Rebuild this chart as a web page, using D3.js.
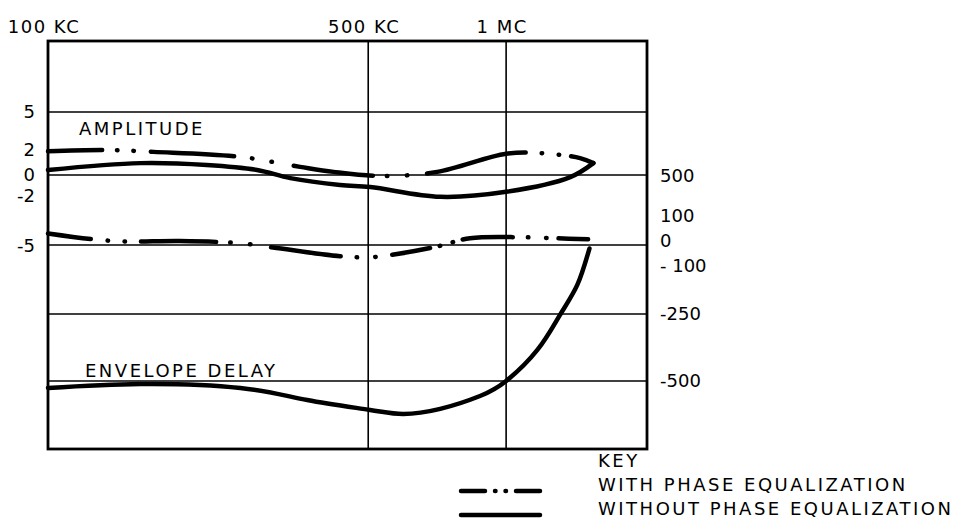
<!DOCTYPE html>
<html>
<head>
<meta charset="utf-8">
<script src="https://cdn.jsdelivr.net/npm/d3@7"></script>
<style>
  body { margin: 0; background: #fff; }
  text { font-family: "DejaVu Sans", sans-serif; fill: #000; }
</style>
</head>
<body>
<div id="chart"></div>
<script>
// frequency in KC (log axis), amplitude in dB (left), envelope delay (right)
const freqTicks = [100, 500, 1000];
const freqLabels = ["100 KC", "500 KC", "1 MC"];
const ampTicks = [5, 2, 0, -2, -5];
const delayTicks = [500, 100, 0, -100, -250, -500];
const delayLabels = ["500", "100", "0", "- 100", "-250", "-500"];

const freqAmpWith = [100, 133, 170, 263, 355, 420, 539, 707, 1000, 1190, 1450, 1550];
const ampWith = [1.9, 2.0, 1.85, 1.45, 0.65, 0.25, -0.1, 0.25, 1.7, 1.75, 1.35, 0.95];
const freqAmpWithout = [100, 159, 222, 286, 338, 434, 505, 718, 1000, 1380, 1550];
const ampWithout = [0.4, 0.95, 0.8, 0.4, -0.3, -0.95, -1.15, -2.05, -1.6, -0.2, 0.95];

const freqDelayWith = [100, 125, 147, 194, 263, 310, 434, 505, 578, 707, 834, 1080, 1280, 1510];
const delayWith = [30, 7, -2, 0, -9, -26, -61, -65, -52, -22, 11, 15, 11, 7];
const freqDelayWithout = [100, 159, 263, 368, 505, 596, 718, 877, 1000, 1170, 1310, 1430, 1520];
const delayWithout = [-526, -511, -526, -571, -608, -623, -604, -556, -500, -384, -254, -159, -30];

const width = 974, height = 525;
const plotLeft = 48, plotRight = 647, plotTop = 41, plotBottom = 449;

const svg = d3.select("#chart").append("svg")
    .attr("width", width)
    .attr("height", height);

const x = d3.scaleLog().domain([100, 2030]).range([plotLeft, plotRight]);
// the printed scales are not uniform, so map each labelled value
const yAmp = d3.scaleLinear().domain(ampTicks).range([112, 150, 175, 196, 246]);
const yDelay = d3.scaleLinear().domain(delayTicks).range([176, 216, 241, 266, 314, 381]);

// grid
const hLines = [yAmp(5), yAmp(0), yDelay(0) + 4, yDelay(-250), yDelay(-500)];
svg.selectAll(".hgrid")
    .data(hLines)
    .enter()
    .append("line")
    .attr("x1", plotLeft).attr("x2", plotRight)
    .attr("y1", d => d).attr("y2", d => d)
    .attr("stroke", "#000")
    .attr("stroke-width", 1.6);

svg.selectAll(".vgrid")
    .data([500, 1000])
    .enter()
    .append("line")
    .attr("x1", d => x(d)).attr("x2", d => x(d))
    .attr("y1", plotTop).attr("y2", plotBottom)
    .attr("stroke", "#000")
    .attr("stroke-width", 1.6);

// frame
svg.append("rect")
    .attr("x", plotLeft).attr("y", plotTop)
    .attr("width", plotRight - plotLeft).attr("height", plotBottom - plotTop)
    .attr("fill", "none")
    .attr("stroke", "#000")
    .attr("stroke-width", 2.8);

// top frequency labels
svg.selectAll(".flabel")
    .data(freqTicks)
    .enter()
    .append("text")
    .attr("x", d => x(d) - 4)
    .attr("y", 33)
    .attr("text-anchor", "middle")
    .attr("font-size", "18px")
    .attr("letter-spacing", "1.5px")
    .text((d, i) => freqLabels[i]);

// left amplitude labels
svg.selectAll(".alabel")
    .data(ampTicks)
    .enter()
    .append("text")
    .attr("x", 35)
    .attr("y", d => yAmp(d))
    .attr("dy", "0.35em")
    .attr("text-anchor", "end")
    .attr("font-size", "18px")
    .text(d => d);

// right delay labels
svg.selectAll(".dlabel")
    .data(delayTicks)
    .enter()
    .append("text")
    .attr("x", 660)
    .attr("y", d => yDelay(d))
    .attr("dy", "0.35em")
    .attr("font-size", "18px")
    .text((d, i) => delayLabels[i]);

// curves, the hand drawn dash-dot-dot pattern varies along each line
const ampDash = "54,15,0.5,16,0.5,17,83,18,0.5,19.5,0.5,22,80,14,0.5,19.5,0.5,20,101,16,0.5,16.5,0.5,12,40";
const delayDash = "43,17,0.5,16.5,0.5,16,75,14,0.5,19.5,0.5,21,70,16,0.5,18,0.5,17,38,10,0.5,13,0.5,10,50,15,0.5,18,0.5,12,40";
const series = [
    { f: freqAmpWith, v: ampWith, y: yAmp, dash: ampDash, curve: d3.curveCatmullRom.alpha(0.5) },
    { f: freqAmpWithout, v: ampWithout, y: yAmp, dash: null, curve: d3.curveCatmullRom.alpha(0.5) },
    { f: freqDelayWith, v: delayWith, y: yDelay, dash: delayDash, curve: d3.curveCatmullRom.alpha(0.5) },
    { f: freqDelayWithout, v: delayWithout, y: yDelay, dash: null, curve: d3.curveNatural }
];

series.forEach(s => {
    const pts = s.f.map((f, i) => [x(f), s.y(s.v[i])]);
    svg.append("path")
        .attr("d", d3.line().curve(s.curve)(pts))
        .attr("fill", "none")
        .attr("stroke", "#000")
        .attr("stroke-width", 4.5)
        .attr("stroke-linecap", "round")
        .attr("stroke-linejoin", "round")
        .attr("stroke-dasharray", s.dash);
});

// curve names
svg.append("text")
    .attr("x", 79).attr("y", 135)
    .attr("font-size", "18px")
    .attr("letter-spacing", "2.5px")
    .text("AMPLITUDE");

svg.append("text")
    .attr("x", 85).attr("y", 377)
    .attr("font-size", "18px")
    .attr("letter-spacing", "2.5px")
    .text("ENVELOPE DELAY");

// key
const key = svg.append("g");
key.append("text")
    .attr("x", 598).attr("y", 467)
    .attr("font-size", "18px")
    .attr("letter-spacing", "2.5px")
    .text("KEY");

const keyItems = [
    { label: "WITH PHASE EQUALIZATION", dash: "24,10,0.5,10,0.5,10" },
    { label: "WITHOUT PHASE EQUALIZATION", dash: null }
];
keyItems.forEach((k, i) => {
    const yy = 491 + i * 24;
    key.append("line")
        .attr("x1", 461).attr("x2", 540)
        .attr("y1", yy).attr("y2", yy)
        .attr("stroke", "#000")
        .attr("stroke-width", 4.5)
        .attr("stroke-linecap", "round")
        .attr("stroke-dasharray", k.dash);
    key.append("text")
        .attr("x", 598).attr("y", yy)
        .attr("font-size", "18px")
        .attr("letter-spacing", "2.5px")
        .text(k.label);
});
</script>
</body>
</html>
